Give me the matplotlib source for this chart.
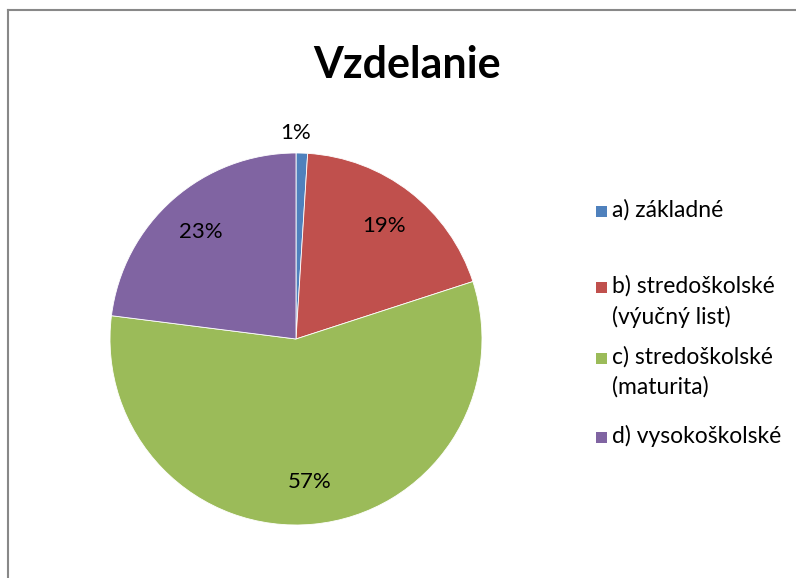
import matplotlib.pyplot as plt
from matplotlib.lines import Line2D
from matplotlib.patches import Rectangle

title = 'Vzdelanie'
categories = ['a) základné', 'b) stredoškolské\n(výučný list)',
              'c) stredoškolské\n(maturita)', 'd) vysokoškolské']
shares = [1, 19, 57, 23]
colors = ['#4F81BD', '#C0504D', '#9BBB59', '#8064A2']

plt.rcParams['font.family'] = ['Lato', 'DejaVu Sans']

W, H = 796, 578
fig = plt.figure(figsize=(W / 100, H / 100), dpi=100)

# pie centred at (296, 339) px, radius 186 px
cx, cy, r = 296, 339, 186
ax = fig.add_axes([(cx - r) / W, (H - cy - r) / H, 2 * r / W, 2 * r / H])
wedges, texts, autotexts = ax.pie(
    shares, colors=colors, startangle=90, counterclock=False,
    autopct='%d%%', pctdistance=0.77, radius=1,
    wedgeprops=dict(edgecolor='white', linewidth=0.6),
    textprops=dict(fontsize=16, color='black'))
ax.set_xlim(-1, 1)
ax.set_ylim(-1, 1)
ax.set_aspect('equal')
ax.axis('off')

# small slice label sits outside the pie
autotexts[0].set_position((0.0, 1.11))

fig.text(407 / W, 1 - 78 / H, title, ha='center', va='baseline',
         fontsize=31, fontweight='bold')

# legend, laid out like the spreadsheet one
first_line_y = [211, 287, 358, 437]
for lab, col, yc in zip(categories, colors, first_line_y):
    fig.patches.append(Rectangle((596 / W, 1 - (yc + 5.5) / H), 11 / W, 11 / H,
                                 facecolor=col, edgecolor='none',
                                 transform=fig.transFigure))
    fig.text(612 / W, 1 - (yc - 12) / H, lab, ha='left', va='top',
             fontsize=16.5, linespacing=1.5)

# chart frame (only top and left edges visible)
fig.add_artist(Line2D([8 / W, 8 / W], [0, 1 - 9.5 / H], color='#888888', lw=1.5))
fig.add_artist(Line2D([8 / W, 1], [1 - 9.5 / H, 1 - 9.5 / H], color='#888888', lw=1.5))

fig.savefig('out.png', dpi=100)
